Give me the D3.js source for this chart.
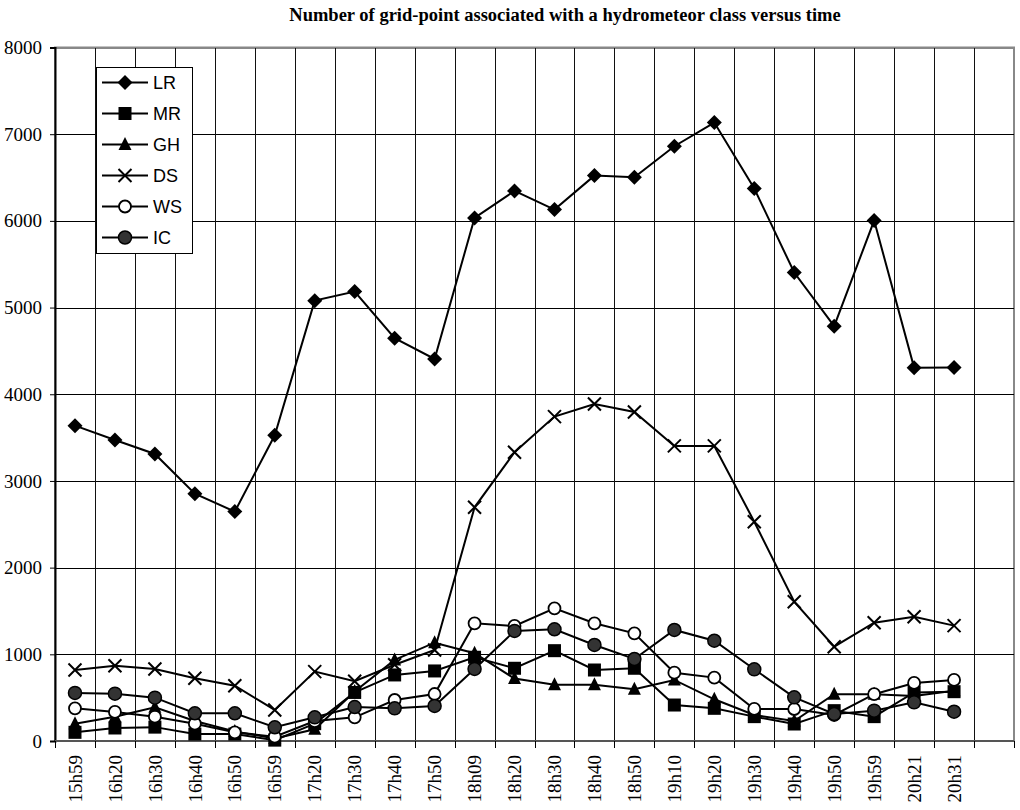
<!DOCTYPE html>
<html>
<head>
<meta charset="utf-8">
<script src="https://cdn.jsdelivr.net/npm/d3@7"></script>
<style>
  html, body { margin: 0; padding: 0; background: #fff; }
  svg { display: block; }
</style>
</head>
<body>
<svg id="chart" width="1020" height="810"></svg>
<script>
const titleText = "Number of grid-point associated with a hydrometeor class versus time";
const categories = ["15h59","16h20","16h30","16h40","16h50","16h59","17h20","17h30","17h40","17h50","18h09","18h20","18h30","18h40","18h50","19h10","19h20","19h30","19h40","19h50","19h59","20h21","20h31"];
const yTicks = [0, 1000, 2000, 3000, 4000, 5000, 6000, 7000, 8000];
const seriesNames = ["LR", "MR", "GH", "DS", "WS", "IC"];
const LR = [3638, 3473, 3311, 2853, 2646, 3527, 5080, 5185, 4646, 4407, 6034, 6346, 6130, 6522, 6504, 6861, 7134, 6373, 5404, 4785, 6004, 4307, 4310];
const MR = [100, 150, 160, 80, 80, 10, 200, 560, 762, 808, 966, 839, 1042, 819, 839, 415, 377, 281, 196, 350, 281, 560, 569];
const GH = [200, 280, 390, 230, 110, 30, 135, 570, 935, 1134, 1012, 720, 650, 650, 596, 704, 481, 300, 230, 540, 540, 520, 580];
const DS = [819, 869, 831, 723, 638, 358, 800, 690, 880, 1050, 2696, 3331, 3742, 3888, 3796, 3404, 3404, 2530, 1607, 1088, 1365, 1434, 1331];
const WS = [377, 335, 280, 200, 100, 50, 230, 273, 473, 542, 1358, 1327, 1531, 1358, 1242, 788, 731, 370, 369, 300, 540, 670, 704];
const IC = [555, 546, 500, 320, 320, 158, 273, 392, 377, 404, 831, 1269, 1289, 1108, 946, 1281, 1157, 827, 504, 311, 350, 446, 338];
const nSlots = 24; // one empty slot after the last category

const seriesData = [LR, MR, GH, DS, WS, IC];
const markerTypes = ["diamond", "square", "triangle", "cross", "open", "dark"];

const svg = d3.select("#chart");
const L = 55, R = 1014, T = 47.5, B = 741;
const serif = "'Liberation Serif', 'Times New Roman', Times, serif";

const x = d3.scaleBand().domain(d3.range(nSlots)).range([L, R]).paddingInner(0).paddingOuter(0);
const y = d3.scaleLinear().domain([0, 8000]).range([B, T]);
const cx = i => x(i) + x.bandwidth() / 2;

// title
svg.append("text")
  .attr("x", 565).attr("y", 21)
  .attr("text-anchor", "middle")
  .style("font-family", serif)
  .attr("font-weight", "bold")
  .attr("font-size", 18.5)
  .text(titleText);

// plot border (gray top/right)
svg.append("rect")
  .attr("x", L).attr("y", T).attr("width", R - L).attr("height", B - T)
  .attr("fill", "none").attr("stroke", "#888").attr("stroke-width", 2);

// horizontal grid
const g = svg.append("g").attr("shape-rendering", "crispEdges");
g.selectAll("line.hg").data(yTicks.filter(v => v > 0)).enter().append("line")
  .attr("x1", L).attr("x2", R)
  .attr("y1", d => Math.round(y(d)) + 0.5).attr("y2", d => Math.round(y(d)) + 0.5)
  .attr("stroke", d => d === 8000 ? "#888" : "#000").attr("stroke-width", 1);
// vertical grid
g.selectAll("line.vg").data(d3.range(1, nSlots)).enter().append("line")
  .attr("x1", d => Math.round(x(d)) + 0.5).attr("x2", d => Math.round(x(d)) + 0.5)
  .attr("y1", T).attr("y2", B)
  .attr("stroke", "#111").attr("stroke-width", 1);

// y axis
const yAxis = d3.axisLeft(y).tickValues(yTicks).tickSize(5).tickPadding(8).tickFormat(d3.format("d"));
const ya = svg.append("g").attr("transform", `translate(${L},0)`).call(yAxis);
ya.attr("font-family", null).attr("font-size", null);
ya.select(".domain").attr("stroke", "#000").attr("stroke-width", 2);
ya.selectAll(".tick line").attr("stroke", "#000");
ya.selectAll("text")
  .style("font-family", serif)
  .style("font-size", "19px").attr("fill", "#000");

// x axis: ticks at band boundaries
const xAxisG = svg.append("g").attr("transform", `translate(0,${B})`);
xAxisG.append("line").attr("x1", L).attr("x2", R).attr("y1", 0).attr("y2", 0)
  .attr("stroke", "#555").attr("stroke-width", 2);
xAxisG.selectAll("line.xt").data(d3.range(0, nSlots + 1)).enter().append("line")
  .attr("shape-rendering", "crispEdges")
  .attr("x1", d => Math.round(d < nSlots ? x(d) : R) + 0.5)
  .attr("x2", d => Math.round(d < nSlots ? x(d) : R) + 0.5)
  .attr("y1", 0).attr("y2", 7).attr("stroke", "#000");
xAxisG.selectAll("text.xl").data(categories).enter().append("text")
  .attr("transform", (d, i) => `translate(${cx(i)},14) rotate(-90)`)
  .attr("text-anchor", "end")
  .attr("dy", "0.35em")
  .style("font-family", serif)
  .style("font-size", "19px")
  .text(d => d);

// markers
function drawMarker(sel, type, px, py) {
  const s = 6.5;
  if (type === "diamond") {
    sel.append("path").attr("d", `M${px},${py - s - 1}L${px + s + 1},${py}L${px},${py + s + 1}L${px - s - 1},${py}Z`).attr("fill", "#000");
  } else if (type === "square") {
    sel.append("rect").attr("x", px - s).attr("y", py - s).attr("width", 2 * s).attr("height", 2 * s).attr("fill", "#000");
  } else if (type === "triangle") {
    sel.append("path").attr("d", `M${px},${py - s - 1}L${px + s},${py + s - 1}L${px - s},${py + s - 1}Z`).attr("fill", "#000");
  } else if (type === "cross") {
    sel.append("path").attr("d", `M${px - s},${py - s}L${px + s},${py + s}M${px - s},${py + s}L${px + s},${py - s}`).attr("stroke", "#000").attr("stroke-width", 2).attr("fill", "none");
  } else if (type === "open") {
    sel.append("circle").attr("cx", px).attr("cy", py).attr("r", 6).attr("fill", "#fff").attr("stroke", "#000").attr("stroke-width", 1.8);
  } else if (type === "dark") {
    sel.append("circle").attr("cx", px).attr("cy", py).attr("r", 6.5).attr("fill", "#333").attr("stroke", "#000").attr("stroke-width", 1.5);
  }
}

const line = d3.line().x((d, i) => cx(i)).y(d => y(d));
seriesData.forEach((vals, si) => {
  const sg = svg.append("g");
  sg.append("path").datum(vals).attr("d", line)
    .attr("fill", "none").attr("stroke", "#000").attr("stroke-width", 2);
  vals.forEach((v, i) => drawMarker(sg, markerTypes[si], cx(i), y(v)));
});

// legend
const lg = svg.append("g");
lg.append("rect").attr("x", 96.5).attr("y", 67.5).attr("width", 96).attr("height", 186)
  .attr("fill", "#fff").attr("stroke", "#000").attr("stroke-width", 1);
seriesNames.forEach((name, i) => {
  const ly = 82.5 + i * 31;
  lg.append("line").attr("x1", 102).attr("x2", 148).attr("y1", ly).attr("y2", ly)
    .attr("stroke", "#000").attr("stroke-width", 2);
  drawMarker(lg, markerTypes[i], 125, ly);
  lg.append("text").attr("x", 153).attr("y", ly).attr("dy", "0.36em")
    .style("font-family", "'Liberation Sans', Arial, sans-serif")
    .style("font-size", "18px").text(name);
});
</script>
</body>
</html>
